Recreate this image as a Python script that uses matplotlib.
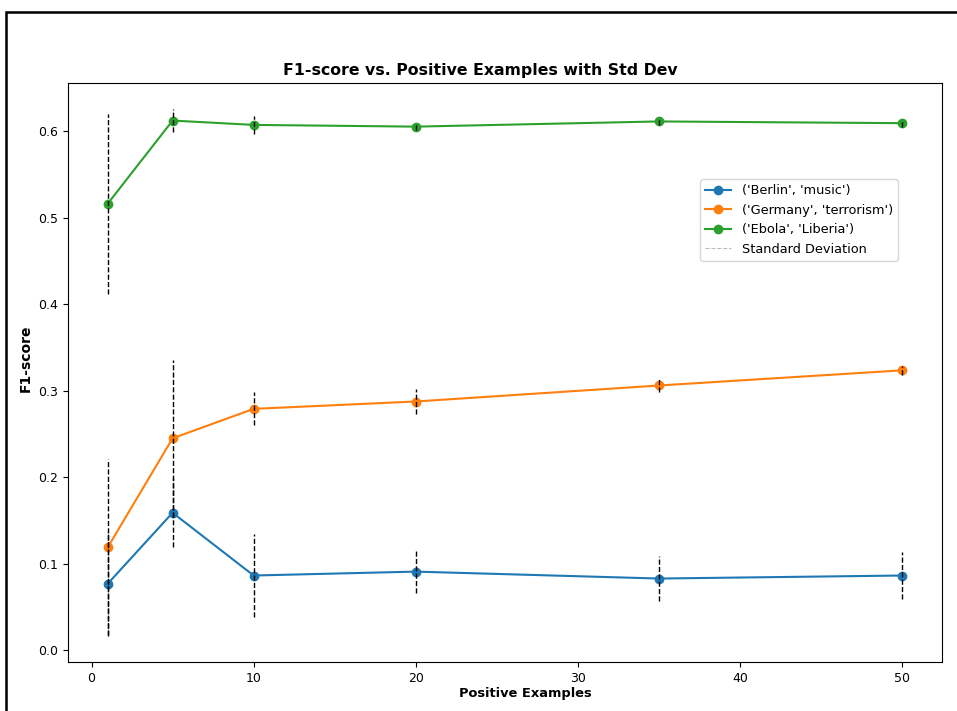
import matplotlib
matplotlib.use("Agg")
import matplotlib.pyplot as plt
from matplotlib.lines import Line2D
from matplotlib.patches import Rectangle
import numpy as np

positive_examples = [1, 5, 10, 20, 35, 50]
series_labels = ["('Berlin', 'music')", "('Germany', 'terrorism')", "('Ebola', 'Liberia')"]
berlin_mean = [0.077, 0.159, 0.0865, 0.091, 0.083, 0.0865]
berlin_std = [0.059, 0.040, 0.048, 0.025, 0.026, 0.027]
germany_mean = [0.119, 0.245, 0.279, 0.2875, 0.306, 0.3235]
germany_std = [0.102, 0.091, 0.019, 0.015, 0.007, 0.005]
ebola_mean = [0.516, 0.612, 0.607, 0.605, 0.611, 0.609]
ebola_std = [0.104, 0.013, 0.010, 0.004, 0.004, 0.004]
colors = ["#1f77b4", "#ff7f0e", "#2ca02c"]

W, H = 957, 711
fig = plt.figure(figsize=(W / 100, H / 100), dpi=100)
ax = fig.add_axes([68 / W, 1 - 662 / H, (942 - 68) / W, (662 - 83) / H])

means = [berlin_mean, germany_mean, ebola_mean]
stds = [berlin_std, germany_std, ebola_std]
x = np.array(positive_examples)
handles = []
for m, s, c, lab in zip(means, stds, colors, series_labels):
    m = np.array(m); s = np.array(s)
    h, = ax.plot(x, m, '-o', color=c, label=lab, lw=1.5, ms=6, zorder=2)
    handles.append(h)
    ax.vlines(x, m - s, m + s, colors='black', linestyles='dashed', lw=1, zorder=3)

sd_handle = Line2D([0], [0], color='#bbbbbb', linestyle='--', lw=0.8, label='Standard Deviation')
handles.append(sd_handle)
ax.legend(handles=handles, loc='upper right', bbox_to_anchor=(0.957, 0.845),
          fontsize=9.3, frameon=True)

ax.set_xticks([0, 10, 20, 30, 40, 50])
ax.set_yticks([0.0, 0.1, 0.2, 0.3, 0.4, 0.5, 0.6])
ax.tick_params(labelsize=9)
ax.set_xlabel('Positive Examples', fontsize=9.4, fontweight='bold')
ax.set_ylabel('F1-score', fontsize=10, fontweight='bold')
ax.xaxis.set_label_coords(0.523, -0.043)
ax.yaxis.set_label_coords(-0.040, 0.525)
fig.text(480 / W, 1 - 70 / H, 'F1-score vs. Positive Examples with Std Dev',
         ha='center', va='center', fontsize=11.3, fontweight='bold')

fig.add_artist(Rectangle((6 / W, -0.5), 2.0, 1 - 12 / H + 0.5, fill=False,
                         edgecolor='black', lw=1.8, transform=fig.transFigure, clip_on=False))

fig.savefig('out.png', dpi=100)
